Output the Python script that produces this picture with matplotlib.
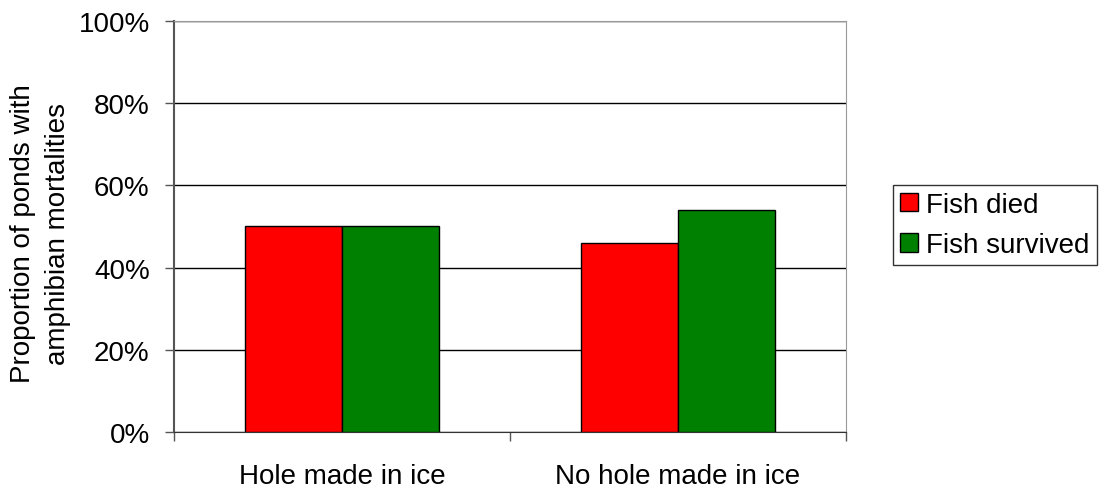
import matplotlib.pyplot as plt
import numpy as np

plt.rcParams['font.family'] = ['Liberation Sans', 'DejaVu Sans']

categories = ["Hole made in ice", "No hole made in ice"]
series_names = ["Fish died", "Fish survived"]
fish_died = [50, 46]
fish_survived = [50, 54]
yticks = [0, 20, 40, 60, 80, 100]

FS = 20

fig = plt.figure(figsize=(10.99, 4.89), dpi=100)
ax = fig.add_axes([174 / 1099, 1 - 433 / 489, 672 / 1099, 411 / 489])

x = np.arange(len(categories))
w = 0.2875
ax.bar(x - w / 2, fish_died, w, color="#ff0000", edgecolor="black", linewidth=1,
       label=series_names[0], zorder=3)
ax.bar(x + w / 2, fish_survived, w, color="#008000", edgecolor="black", linewidth=1,
       label=series_names[1], zorder=3)

ax.set_xlim(-0.5, len(categories) - 0.5)
ax.set_ylim(0, 100)
ax.set_yticks(yticks)
ax.set_yticklabels(["{}%".format(v) for v in yticks], fontsize=FS)
ax.yaxis.grid(True, color="black", linewidth=1, zorder=0)

# category labels in the middle, tick marks on the boundaries
ax.set_xticks(x)
ax.set_xticklabels(categories, fontsize=FS)
ax.tick_params(axis="x", which="major", length=0, pad=22)
ax.set_xticks(np.arange(-0.5, len(categories)), minor=True)
ax.tick_params(axis="x", which="minor", length=6.5, width=1, color="#555555")
ax.tick_params(axis="y", length=6.5, width=1, color="#555555", pad=11)

for side in ("top", "right"):
    ax.spines[side].set_color("#999999")
ax.spines["left"].set_color("#555555")
ax.spines["left"].set_linewidth(1.5)
ax.spines["bottom"].set_color("#333333")

ax.set_ylabel("Proportion of ponds with\namphibian mortalities", fontsize=FS,
              linespacing=1.45)
ax.yaxis.set_label_coords(-0.154, 0.485)

leg = ax.legend(loc="center left", bbox_to_anchor=(893 / 1099, 1 - 226 / 489),
                bbox_transform=fig.transFigure, fontsize=FS, frameon=True, fancybox=False,
                handlelength=0.65, handleheight=0.65, handletextpad=0.3, borderpad=0.25,
                labelspacing=0.52, borderaxespad=0)
leg.get_frame().set_edgecolor("black")
leg.get_frame().set_linewidth(1)

plt.savefig("out.png", dpi=100)
plt.close()
